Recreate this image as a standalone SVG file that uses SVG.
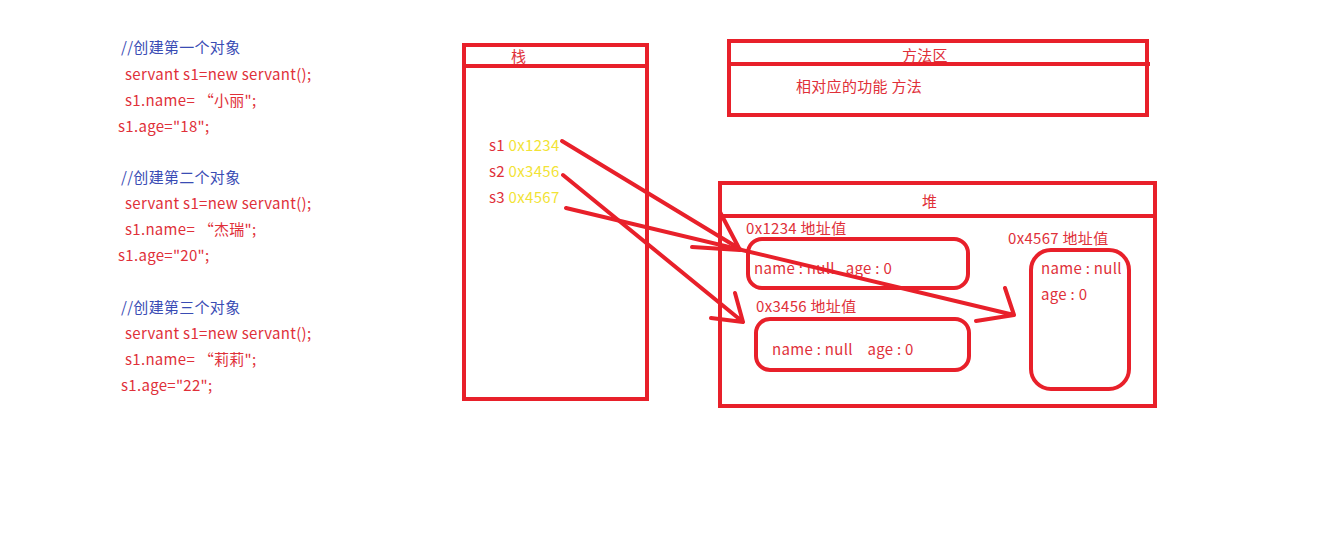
<svg xmlns="http://www.w3.org/2000/svg" width="1340" height="543" viewBox="0 0 1340 543">
<style>
.box{fill:none;stroke:#e8202a;stroke-width:4}
.ln{fill:none;stroke:#e8202a;stroke-width:4;stroke-linecap:round}
.t{font-family:"Microsoft YaHei","Noto Sans CJK SC","Noto Sans",sans-serif;font-size:15px;letter-spacing:0.3px;fill:#e03039;white-space:pre}
.c{fill:#3a4cb4}
.y{fill:#f2e335}
</style>
<rect width="1340" height="543" fill="#fff"/>
<g id="code">
<text class="t c" x="121" y="53">//创建第一个对象</text>
<text class="t" x="125" y="80">servant s1=new servant();</text>
<text class="t" x="125" y="106">s1.name= “小丽";</text>
<text class="t" x="118" y="132">s1.age="18";</text>
<text class="t c" x="121" y="183">//创建第二个对象</text>
<text class="t" x="125" y="209">servant s1=new servant();</text>
<text class="t" x="125" y="235">s1.name= “杰瑞";</text>
<text class="t" x="118" y="261">s1.age="20";</text>
<text class="t c" x="121" y="313">//创建第三个对象</text>
<text class="t" x="125" y="339">servant s1=new servant();</text>
<text class="t" x="125" y="365">s1.name= “莉莉";</text>
<text class="t" x="121" y="391">s1.age="22";</text>
</g>
<g id="stack">
<rect class="box" x="464" y="45" width="183" height="354"/>
<line class="box" x1="464" y1="66" x2="647" y2="66"/>
<text class="t" x="511" y="62">栈</text>
<text class="t" x="489" y="151">s1 <tspan class="y">0x1234</tspan></text>
<text class="t" x="489" y="177">s2 <tspan class="y">0x3456</tspan></text>
<text class="t" x="489" y="203">s3 <tspan class="y">0x4567</tspan></text>
</g>
<g id="method">
<rect class="box" x="729" y="41" width="418" height="74"/>
<line class="box" x1="729" y1="64" x2="1150" y2="64"/>
<text class="t" x="902" y="61">方法区</text>
<text class="t" x="796" y="92">相对应的功能 方法</text>
</g>
<g id="heap">
<rect class="box" x="720" y="183" width="435" height="223"/>
<line class="box" x1="720" y1="216" x2="1155" y2="216"/>
<text class="t" x="922" y="207">堆</text>
</g>
<g id="obj1">
<text class="t" x="746" y="234">0x1234 地址值</text>
<rect class="box" x="748" y="239" width="220" height="49" rx="14"/>
<text class="t" x="754" y="274">name : null   age : 0</text>
</g>
<g id="obj2">
<text class="t" x="756" y="312">0x3456 地址值</text>
<rect class="box" x="756" y="319" width="213" height="51" rx="14"/>
<text class="t" x="772" y="355">name : null    age : 0</text>
</g>
<g id="obj3">
<text class="t" x="1008" y="244">0x4567 地址值</text>
<rect class="box" x="1031" y="250" width="98" height="139" rx="20"/>
<text class="t" x="1041" y="274">name : null</text>
<text class="t" x="1041" y="300">age : 0</text>
</g>
<g id="connectors">
<path class="ln" d="M562,141 L740,249 M720,212 L740,250 M692,247 L740,250"/>
<path class="ln" d="M563,175 L743,322 M735,293 L743,322 M711,318 L743,322"/>
<path class="ln" d="M566,208 L1014,315 M1005,288 L1014,315 M976,321 L1014,315"/>
</g>
</svg>
